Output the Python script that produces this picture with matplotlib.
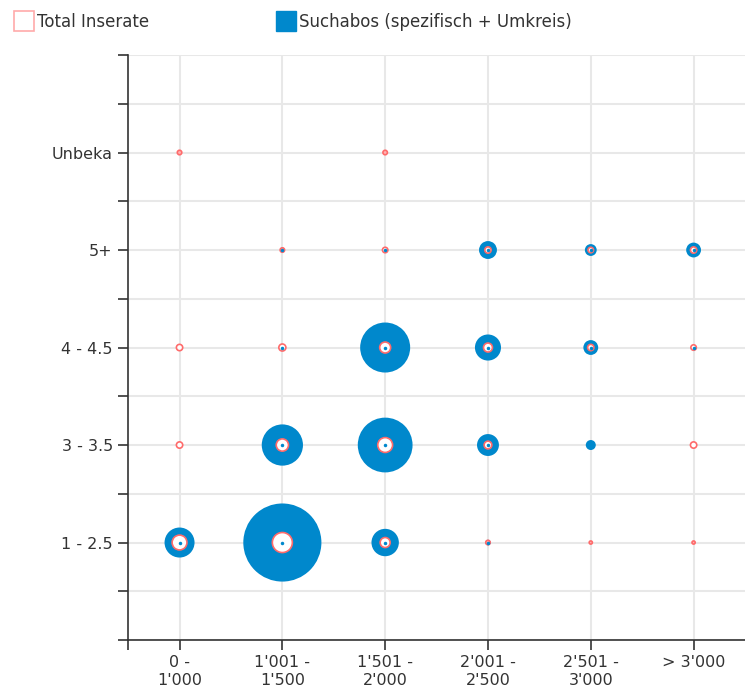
import matplotlib
matplotlib.use('Agg')
import matplotlib.pyplot as plt
import numpy as np
from matplotlib.lines import Line2D

# categories
price_labels = ["0 -\n1'000", "1'001 -\n1'500", "1'501 -\n2'000",
                "2'001 -\n2'500", "2'501 -\n3'000", "> 3'000"]
room_labels = ["1 - 2.5", "3 - 3.5", "4 - 4.5", "5+", "Unbeka"]

# rows = rooms (bottom to top), cols = price ranges
suchabos = [
    [90, 610, 75, 3, 0, 0],
    [0, 170, 300, 48, 10, 0],
    [0, 1, 250, 68, 22, 2],
    [0, 2, 3, 32, 14, 22],
    [0, 0, 0, 0, 0, 0],
]
inserate = [
    [22, 40, 10, 2, 1, 1],
    [4, 15, 22, 6, 0, 4],
    [4, 5, 12, 8, 4, 3],
    [0, 2, 3, 4, 3, 4],
    [2, 0, 2, 0, 0, 0],
]

BLUE = '#0088cc'
RED = '#ff6b6b'
DPI = 100


def size(v):
    # bubble area proportional to value (diameter in px -> points^2)
    d_px = np.sqrt(10 * np.asarray(v, dtype=float))
    return (d_px * 72 / DPI) ** 2


xs, ys, sv, iv = [], [], [], []
for r, (srow, irow) in enumerate(zip(suchabos, inserate)):
    for c, (s, i) in enumerate(zip(srow, irow)):
        xs.append(c)
        ys.append(r + 1)
        sv.append(s)
        iv.append(i)
xs, ys, sv, iv = map(np.array, (xs, ys, sv, iv))

fig = plt.figure(figsize=(7.45, 6.92), dpi=DPI)
ax = fig.add_axes([0.172, 0.0751, 0.828, 0.8454])

m = sv > 0
ax.scatter(xs[m], ys[m], s=size(sv[m]), color=BLUE, linewidths=0, zorder=3)
m2 = iv > 0
# tiny circles look like filled red dots in the original
face = np.where(iv[m2] <= 2, '#ffb3b3', 'white')
ax.scatter(xs[m2], ys[m2], s=size(iv[m2]), facecolor=face, edgecolor=RED,
           linewidths=1.2, zorder=4)
m3 = m & m2
ax.scatter(xs[m3], ys[m3], s=(3.5 * 72 / DPI) ** 2, color=BLUE, linewidths=0, zorder=5)

ax.set_xlim(-0.5, 5.5)
ax.set_ylim(0, 6)
ax.set_xticks(range(len(price_labels)))
ax.set_xticklabels(price_labels)
ax.set_xticks([-0.5], minor=True)
yt = np.arange(0, 6.01, 0.5)
ax.set_yticks(yt)
ax.set_yticklabels([room_labels[int(t) - 1] if t in range(1, 6) else '' for t in yt])

ax.grid(axis='y', color='#e8e8e8', lw=1.5, zorder=0)
ax.grid(axis='x', which='major', color='#e8e8e8', lw=1.5, zorder=0)
ax.set_axisbelow(True)

for sp in ['top', 'right']:
    ax.spines[sp].set_visible(False)
for sp in ['left', 'bottom']:
    ax.spines[sp].set_color('#333333')
    ax.spines[sp].set_linewidth(1.2)
ax.tick_params(axis='both', which='both', direction='out', length=7, width=1.2,
               color='#333333', labelsize=11.5, labelcolor='#333333', pad=4)

handles = [
    Line2D([], [], marker='s', ls='none', markersize=14, markerfacecolor='white',
           markeredgecolor='#ffaaaa', markeredgewidth=1.2, label='Total Inserate'),
    Line2D([], [], marker='s', ls='none', markersize=14, markerfacecolor=BLUE,
           markeredgecolor=BLUE, label='Suchabos (spezifisch + Umkreis)'),
]
fig.legend(handles=handles, loc='upper left', bbox_to_anchor=(0.003, 0.998), ncol=2,
           frameon=False, fontsize=12, handlelength=1.2, handletextpad=0.2,
           columnspacing=7.6, borderaxespad=0.3, labelcolor='#333333')

fig.savefig('out.png', dpi=DPI)
